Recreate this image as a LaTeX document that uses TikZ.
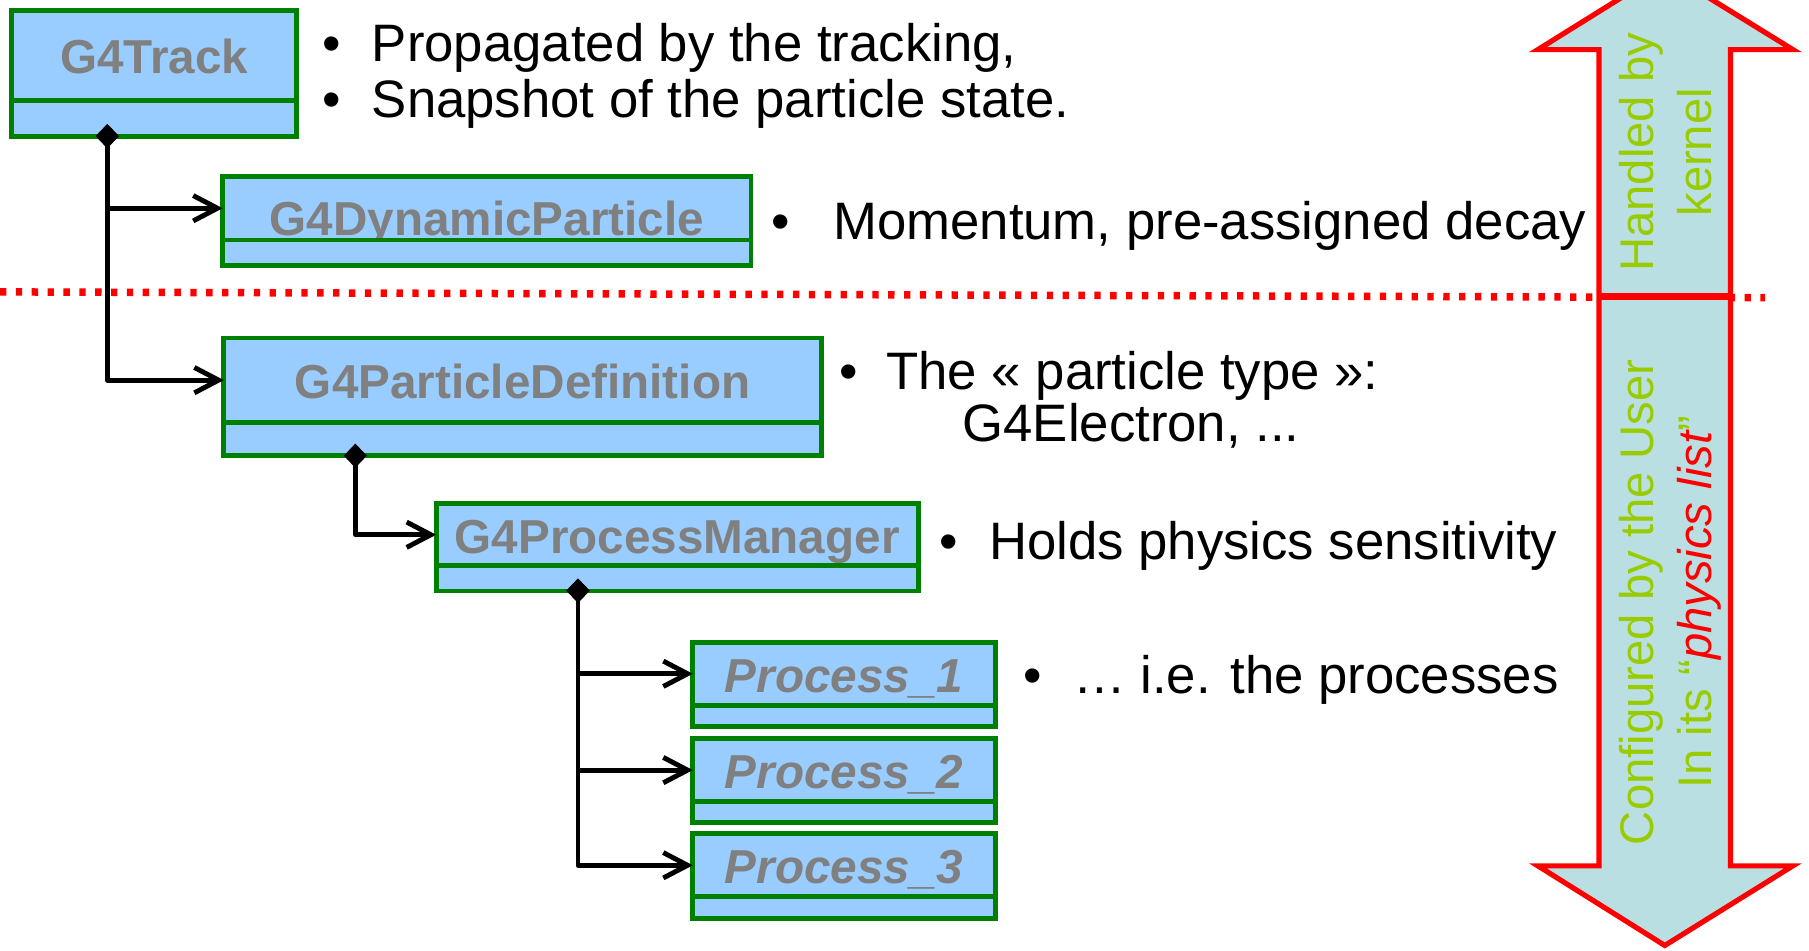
\documentclass[tikz,border=0pt]{standalone}
\usepackage{fontspec}
\setmainfont{Liberation Sans}
\usetikzlibrary{positioning,arrows.meta}

\definecolor{boxfill}{RGB}{153,204,255}
\definecolor{boxline}{RGB}{0,128,0}
\definecolor{namegray}{RGB}{128,128,128}
\definecolor{kernelgreen}{RGB}{153,204,0}
\definecolor{arrowfill}{RGB}{186,223,227}

\tikzstyle{classhead} = [rectangle,draw=boxline,fill=boxfill,line width=0.085cm,inner sep=0pt,outer sep=0pt,text height=0.64cm,text depth=0pt,text=namegray,font=\fontsize{23.5}{28}\selectfont\bfseries]
\tikzstyle{classfoot} = [rectangle,draw=boxline,fill=boxfill,line width=0.085cm,inner sep=0pt,outer sep=0pt]
\tikzstyle{remark} = [anchor=base west,inner sep=0pt,font=\fontsize{26}{26}\selectfont]
\tikzstyle{vlabel} = [rotate=90,align=center,inner sep=0pt,text=kernelgreen,font=\fontsize{23.3}{28.5}\selectfont]
\tikzstyle{assoc} = [line width=0.085cm,line join=round,{Diamond[length=0.42cm,width=0.4cm]}-{Straight Barb[length=0.42cm,width=0.44cm]}]
\tikzstyle{sepline} = [red,line width=0.13cm,dash pattern=on 0.11cm off 0.165cm]
\tikzstyle{bigarrow} = [draw=red,fill=arrowfill,line width=0.09cm]

\newcommand{\itm}[1]{\makebox[#1][l]{\textbullet}}

\begin{document}
\begin{tikzpicture}[x=0.02cm,y=-0.02cm]
    \useasboundingbox (0,0) rectangle (1568,824);
    % kernel / user border
    \draw[sepline] (0,253) -- (1530,258);

    % the double arrow on the right
    \draw[bigarrow] (1443,-25.5) -- (1554,43) -- (1500,43) -- (1500,750.5) -- (1554,750.5)
        -- (1443,819.5) -- (1333,750.5) -- (1386,750.5) -- (1386,43) -- (1333,43) -- cycle;
    \draw[red,line width=0.12cm] (1386,257) -- (1500,257);
    \node[vlabel] (kernellbl) at (1444,132) {Handled by\\kernel};
    \node[vlabel] (userlbl) at (1448,522) {Configured by the User\\In its “\textcolor{red}{\itshape physics list}”};

    % classes
    \node[classhead,minimum width=4.94cm,minimum height=1.56cm] (track) at (133.5,48) {G4Track};
    \node[classfoot,minimum width=4.94cm,minimum height=0.62cm,below=0pt of track] (trackfoot) {};
    \node[classhead,minimum width=9.16cm,minimum height=1.1cm,text height=0.94cm] (dyn) at (422,180.5) {G4DynamicParticle};
    \node[classfoot,minimum width=9.16cm,minimum height=0.44cm,below=0pt of dyn] (dynfoot) {};
    \node[classhead,minimum width=10.36cm,minimum height=1.46cm] (pdef) at (453,329.5) {G4ParticleDefinition};
    \node[classfoot,minimum width=10.36cm,minimum height=0.58cm,below=0pt of pdef] (pdeffoot) {};
    \node[classhead,minimum width=8.36cm,minimum height=1.07cm] (pmgr) at (587,463.5) {G4ProcessManager};
    \node[classfoot,minimum width=8.36cm,minimum height=0.44cm,below=0pt of pmgr] (pmgrfoot) {};
    \foreach \i/\y in {1/584,2/667.5,3/750}
    {
        \node[classhead,minimum width=5.24cm,minimum height=1.09cm,font=\fontsize{23.5}{28}\selectfont\bfseries\itshape] (proc\i) at (731.5,\y) {Process\_\i};
        \node[classfoot,minimum width=5.24cm,minimum height=0.37cm,below=0pt of proc\i] (proc\i-foot) {};
    }

    % associations
    \coordinate (trackroot) at (93,107.5);
    \coordinate (pdefroot) at (308,384.5);
    \coordinate (pmgrroot) at (501,501.5);
    \draw[assoc] (trackroot) |- (dyn.west);
    \draw[assoc] (trackroot) |- (pdef.west);
    \draw[assoc] (pdefroot) |- (pmgr.west);
    \foreach \i in {1,2,3}
    {\draw[assoc] (pmgrroot) |- (proc\i.west);}

    % remarks
    \node[remark] (trackr1) at (279,53) {\itm{0.86cm}Propagated by the tracking,};
    \node[remark] (trackr2) at (279,102) {\itm{0.86cm}Snapshot of the particle state.};
    \node[remark] (dynr) at (668,208) {\itm{1.08cm}Momentum, pre-assigned decay};
    \node[remark] (pdefr1) at (727,338) {\itm{0.82cm}The « particle type »:};
    \node[remark] (pdefr2) at (834,383) {G4Electron, ...};
    \node[remark] (pmgrr) at (814,485) {\itm{0.86cm}Holds physics sensitivity};
    \node[remark] (procr) at (887,601) {\itm{0.86cm}… i.e. the processes};
\end{tikzpicture}
\end{document}
